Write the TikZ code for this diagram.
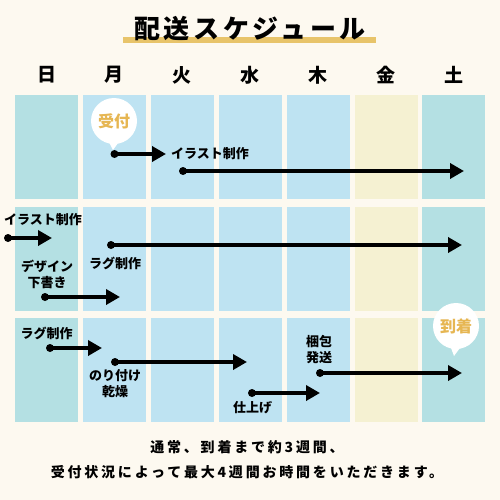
\documentclass[tikz,border=0pt]{standalone}
\usepackage{fontspec}
\newfontfamily\jp{Noto Sans CJK JP}
\newfontfamily\jpnote{Noto Sans CJK JP}[LetterSpace=20]
\newfontfamily\jptitle{Noto Sans CJK JP}[LetterSpace=14]
\usetikzlibrary{arrows.meta,positioning}
\definecolor{bgcream}{HTML}{FDF9F0}
\definecolor{dayblue}{HTML}{BEE3F2}
\definecolor{dayteal}{HTML}{B4E0E3}
\definecolor{dayyellow}{HTML}{F5F1D2}
\definecolor{titlegold}{HTML}{E8C46A}
\definecolor{bubblegold}{HTML}{E6B652}
\begin{document}
\begin{tikzpicture}[x=1pt,y=-1pt,
  daylabel/.style={font=\jp\bfseries\fontsize{19}{22}\selectfont},
  task/.style={font=\jp\bfseries\fontsize{13}{16}\selectfont, align=center, inner sep=0pt},
  dot/.style={circle, fill=black, inner sep=0pt, minimum size=8pt},
  flow/.style={line width=3.5pt, -{Triangle[length=14pt,width=15pt]}},
  bubble/.style={circle, fill=white, minimum size=46pt, inner sep=0pt, text=bubblegold,
    font=\jp\bfseries\fontsize{16}{18}\selectfont}]
  \useasboundingbox[fill=bgcream] (0,0) rectangle (500,500);
  \fill[titlegold] (123,37) rectangle (376,43);
  \node[font=\jptitle\bfseries\fontsize{26}{30}\selectfont] (title) at (250,29) {配送スケジュール};
  \foreach \dname/\shade [count=\i from 0] in {日/dayteal,月/dayblue,火/dayblue,水/dayblue,木/dayblue,金/dayyellow,土/dayteal} {
    \node[daylabel] (day\i) at (46.5+67.9*\i,75) {\dname};
    \foreach \r in {0,1,2}
      \fill[\shade] (15+67.9*\i,95+111.5*\r) rectangle ++(63,104);
  }

  \node[bubble] (recv) at (114,121) {受付};
  \fill[white] ([xshift=-6pt,yshift=4pt]recv.south) -- (113,150) -- ([xshift=6pt,yshift=4pt]recv.south) -- cycle;
  \node[bubble] (arrive) at (456,326) {到着};
  \fill[white] ([xshift=-6pt,yshift=4pt]arrive.south) -- (454,356) -- ([xshift=6pt,yshift=4pt]arrive.south) -- cycle;

  \node[dot] (recvdot) at (114.5,154) {};
  \coordinate (recvend) at (166,154);
  \draw[flow] (recvdot.center) -- (recvend);
  \node[task, anchor=west] (illust1) at (171,154) {イラスト制作};
  \node[dot] (illustdot1) at (183,171) {};
  \coordinate (illustend1) at (464,171);
  \draw[flow] (illustdot1.center) -- (illustend1);

  \node[task] (illust2) at (43,220) {イラスト制作};
  \node[dot] (illustdot2) at (8,238) {};
  \coordinate (illustend2) at (52,238);
  \draw[flow] (illustdot2.center) -- (illustend2);
  \node[dot] (rugdot1) at (111,245) {};
  \coordinate (rugend1) at (462,245);
  \draw[flow] (rugdot1.center) -- (rugend1);
  \node[task] (rug1) at (115,263) {ラグ制作};
  \node[task] (sketch) at (47,274.5) {デザイン\\下書き};
  \node[dot] (sketchdot) at (45,297) {};
  \coordinate (sketchend) at (120,297);
  \draw[flow] (sketchdot.center) -- (sketchend);

  \node[task] (rug2) at (46.5,333) {ラグ制作};
  \node[dot] (rugdot2) at (50,348) {};
  \coordinate (rugend2) at (102,348);
  \draw[flow] (rugdot2.center) -- (rugend2);
  \node[dot] (gluedot) at (115,362) {};
  \coordinate (glueend) at (247,362);
  \draw[flow] (gluedot.center) -- (glueend);
  \node[task] (glue) at (115,383.5) {のり付け\\乾燥};
  \node[dot] (finishdot) at (252,393) {};
  \coordinate (finishend) at (320,393);
  \draw[flow] (finishdot.center) -- (finishend);
  \node[task] (finish) at (252.5,408) {仕上げ};
  \node[task] (pack) at (319,350) {梱包\\発送};
  \node[dot] (packdot) at (320,373) {};
  \coordinate (packend) at (462,373);
  \draw[flow] (packdot.center) -- (packend);

  \node[font=\jpnote\bfseries\fontsize{14}{25}\selectfont, align=center] (note) at (247,459.5)
    {通常、到着まで約3週間、\\受付状況によって最大4週間お時間をいただきます。};
\end{tikzpicture}
\end{document}
